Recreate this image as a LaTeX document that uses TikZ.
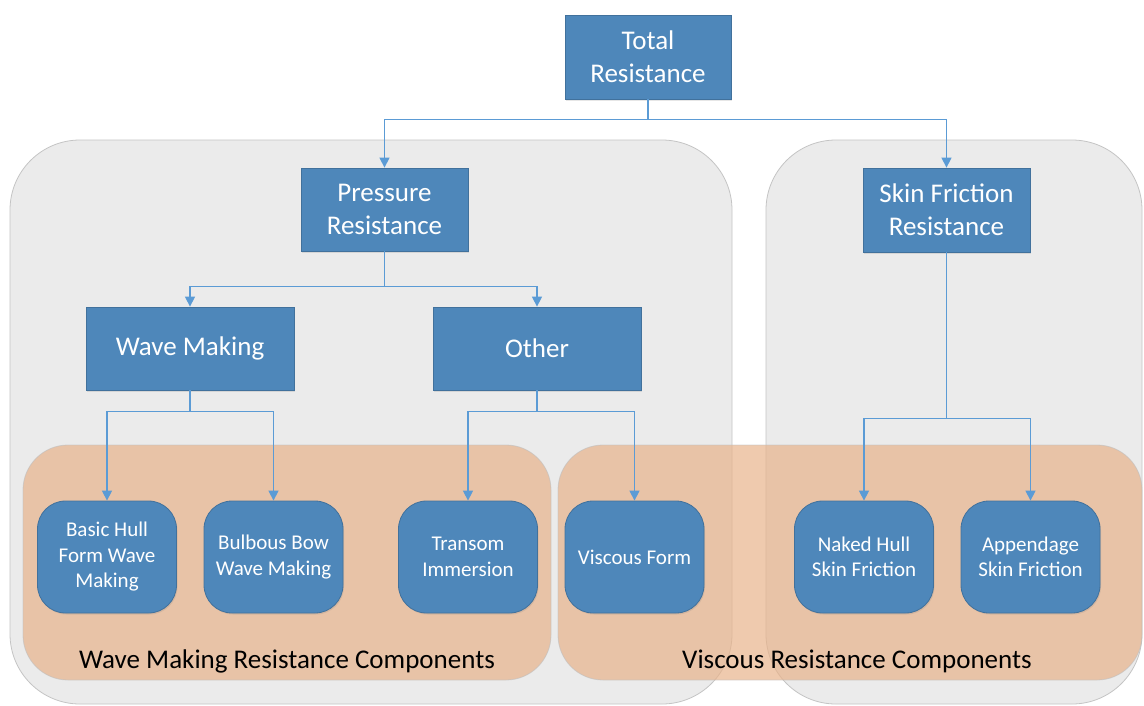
\documentclass[tikz,border=0pt]{standalone}
\usepackage{fontspec}
\setmainfont{Carlito}
\usetikzlibrary{arrows.meta,shadows}
\definecolor{nodeblue}{HTML}{4E87BA}
\definecolor{nodeedge}{HTML}{41719C}
\definecolor{linkblue}{HTML}{5B9BD5}
\definecolor{panelgrey}{HTML}{EBEBEB}
\definecolor{paneledge}{HTML}{C4C4C4}
\definecolor{bandorange}{RGB}{232,179,139}
\tikzset{
  sqbox/.style={rectangle, fill=nodeblue, draw=nodeedge, line width=0.8pt,
    text=white, align=center, inner sep=0pt,
    font=\fontsize{27}{33}\selectfont,
    drop shadow={opacity=0.2, shadow xshift=1pt, shadow yshift=-1.5pt}},
  rbox/.style={sqbox, rounded corners=28pt, minimum width=139pt, minimum height=112pt,
    font=\fontsize{21}{25.5}\selectfont},
  greypanel/.style={fill=panelgrey, draw=paneledge, line width=0.8pt, rounded corners=70pt},
  orangeband/.style={fill=bandorange, fill opacity=0.7, draw=black!25, draw opacity=0.6,
    line width=0.8pt, rounded corners=45pt},
  bandlabel/.style={text=black, font=\fontsize{27}{33}\selectfont, inner sep=0pt},
  link/.style={draw=linkblue, line width=1.4pt, -{Triangle[width=10pt,length=10pt]}},
}
\begin{document}
\begin{tikzpicture}[x=1pt, y=-1pt]
  \useasboundingbox (0,0) rectangle (1144,705);

  % background panels
  \path[greypanel] (10,140) rectangle (732,704);
  \path[greypanel] (766,140) rectangle (1142,704);
  \path[orangeband] (23,445) rectangle (551,680);
  \path[orangeband] (558,445) rectangle (1142,680);

  \node[bandlabel] (wavelabel) at (287,661) {Wave Making Resistance Components};
  \node[bandlabel] (visclabel) at (857,661) {Viscous Resistance Components};

  % hierarchy boxes
  \node[sqbox, minimum width=166pt, minimum height=84pt] (total) at (648,57) {Total\\Resistance};
  \node[sqbox, minimum width=167pt, minimum height=83pt] (pressure) at (384.5,209.5) {Pressure\\Resistance};
  \node[sqbox, minimum width=167pt, minimum height=84pt] (skin) at (946.5,210) {Skin Friction\\Resistance};
  \node[sqbox, minimum width=208pt, minimum height=83pt] (wave) at (190,348.5) {Wave Making};
  \node[sqbox, minimum width=208pt, minimum height=83pt] (other) at (537,348.5) {Other};

  % component leaves
  \node[rbox] (basic) at (107,557) {Basic Hull\\Form Wave\\Making};
  \node[rbox] (bulbous) at (273.5,557) {Bulbous Bow\\Wave Making};
  \node[rbox] (transom) at (468,557) {Transom\\Immersion};
  \node[rbox] (viscous) at (634.5,557) {Viscous Form};
  \node[rbox] (naked) at (864,557) {Naked Hull\\Skin Friction};
  \node[rbox] (append) at (1030.5,557) {Appendage\\Skin Friction};

  % connectors
  \draw[link] (total.south) -- ++(0,20) -| (pressure.north);
  \draw[link] (total.south) -- ++(0,20) -| (skin.north);
  \draw[link] (pressure.south) -- ++(0,35) -| (wave.north);
  \draw[link] (pressure.south) -- ++(0,35) -| (other.north);
  \draw[link] (wave.south) -- ++(0,21) -| (basic.north);
  \draw[link] (wave.south) -- ++(0,21) -| (bulbous.north);
  \draw[link] (other.south) -- ++(0,21) -| (transom.north);
  \draw[link] (other.south) -- ++(0,21) -| (viscous.north);
  \draw[link] (skin.south) -- ++(0,166) -| (naked.north);
  \draw[link] (skin.south) -- ++(0,166) -| (append.north);
\end{tikzpicture}
\end{document}
